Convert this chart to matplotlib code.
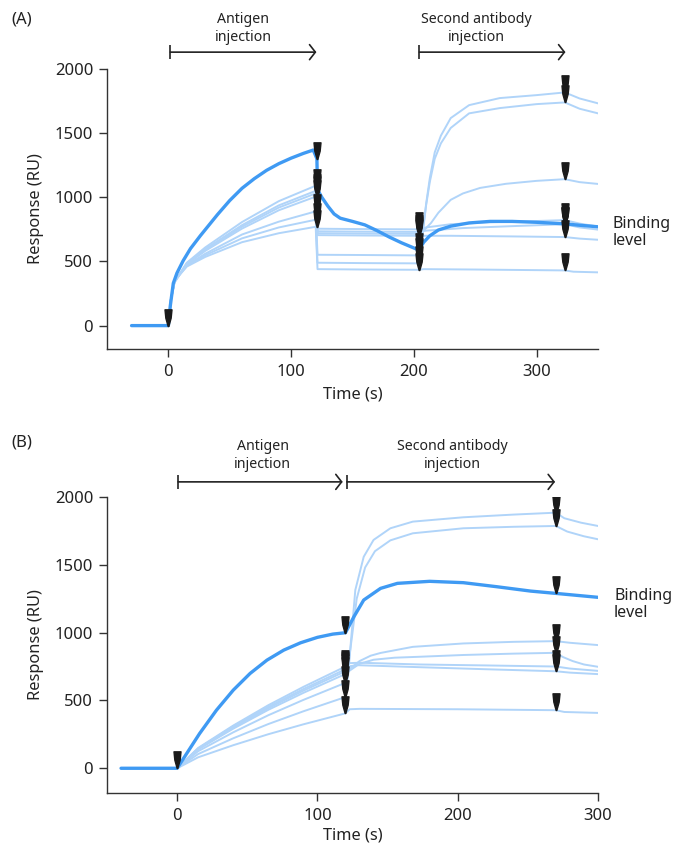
import matplotlib.pyplot as plt
from matplotlib.path import Path

plt.rcParams['font.family'] = ['Noto Sans', 'DejaVu Sans']

# ---- panel A data (time s, response RU) ----
a_thick_t = [-30, 0, 1.5, 4, 7, 12, 18, 26, 40, 50, 60, 70, 80, 90, 100, 110, 118,
             121, 121.5, 125, 130, 135, 140, 150, 160, 170, 180, 190, 200, 204,
             208, 213, 220, 230, 245, 262, 280, 300, 323, 335, 350]
a_thick_v = [0, 0, 150, 330, 410, 505, 600, 700, 865, 975, 1070, 1145, 1210, 1262, 1305, 1342, 1368,
             1300, 1060, 1000, 930, 870, 837, 812, 785, 740, 690, 645, 605, 588,
             650, 700, 745, 775, 800, 812, 812, 805, 793, 782, 770]

a_light_t = [
    [0, 2, 5, 8, 15, 30, 60, 90, 120, 121.5, 160, 204, 210, 230, 260, 300, 323, 335, 350],
    [0, 2, 5, 8, 15, 30, 60, 90, 120, 121.5, 160, 204, 210, 240, 280, 323, 335, 350],
    [0, 2, 5, 8, 15, 30, 60, 90, 120, 121.5, 160, 204, 208, 214, 220, 230, 240, 254, 275, 300, 323, 335, 350],
    [0, 2, 5, 8, 15, 30, 60, 90, 120, 121.5, 160, 204, 230, 280, 323, 335, 350],
    [0, 2, 5, 8, 15, 30, 60, 90, 120, 121.5, 160, 204, 207, 210, 213, 217, 222, 230, 245, 270, 300, 323, 335, 350],
    [0, 2, 5, 8, 15, 30, 60, 90, 120, 121.5, 160, 204, 207, 210, 213, 217, 222, 230, 245, 270, 300, 323, 335, 350],
    [0, 2, 5, 8, 15, 30, 60, 90, 120, 121.5, 160, 204, 208, 250, 323, 330, 350],
]
a_light_v = [
    [0, 200, 340, 383, 490, 609, 807, 970, 1090, 755, 752, 750, 765, 790, 805, 815, 822, 795, 772],
    [0, 200, 340, 383, 485, 596, 783, 937, 1050, 735, 732, 730, 740, 760, 775, 790, 765, 748],
    [0, 200, 340, 383, 482, 590, 771, 920, 1030, 720, 717, 715, 740, 800, 880, 980, 1030, 1073, 1105, 1128, 1141, 1118, 1104],
    [0, 200, 340, 383, 478, 582, 756, 899, 1005, 705, 702, 700, 700, 695, 690, 678, 669],
    [0, 200, 340, 383, 470, 560, 710, 810, 890, 552, 550, 547, 720, 940, 1120, 1300, 1420, 1540, 1654, 1695, 1726, 1739, 1690, 1654],
    [0, 200, 340, 383, 465, 548, 680, 765, 825, 490, 487, 485, 700, 950, 1150, 1350, 1480, 1617, 1718, 1773, 1796, 1817, 1770, 1732],
    [0, 200, 340, 383, 460, 535, 650, 720, 770, 440, 437, 435, 440, 437, 430, 420, 415],
]

# injection markers (arrow tips)
a_mark_t = [0, 121, 121, 121, 121, 121, 121, 121, 121,
            204, 204, 204, 204, 204, 204, 204, 204,
            323, 323, 323, 323, 323, 323, 323, 323]
a_mark_v = [0, 1300, 1090, 1050, 1030, 1005, 890, 825, 770,
            588, 750, 730, 715, 700, 547, 485, 435,
            793, 822, 790, 1141, 690, 1739, 1817, 430]

# ---- panel B data ----
b_thick_t = [-40, 0, 16, 28, 40, 52, 64, 76, 88, 100, 111, 120, 126, 133, 145, 157,
             180, 204, 228, 252, 270, 300]
b_thick_v = [0, 0, 256, 428, 576, 699, 797, 871, 925, 965, 989, 999, 1117, 1240, 1326, 1363,
             1378, 1368, 1338, 1306, 1289, 1260]

b_light_t = [
    [0, 15, 40, 65, 90, 120, 123, 130, 173, 220, 270, 280, 300],
    [0, 15, 40, 65, 90, 120, 123, 128, 173, 220, 270, 280, 300],
    [0, 15, 40, 65, 90, 120, 124, 130, 138, 145, 168, 204, 240, 270, 280, 300],
    [0, 15, 40, 65, 90, 120, 123, 130, 140, 155, 173, 204, 240, 270, 275, 282, 290, 300],
    [0, 15, 40, 65, 90, 120, 122, 125, 128, 134, 141, 152, 168, 204, 240, 270, 278, 290, 300],
    [0, 15, 40, 65, 90, 120, 122, 124, 127, 133, 140, 152, 168, 204, 240, 270, 276, 288, 300],
    [0, 15, 40, 65, 90, 120, 123, 130, 200, 270, 276, 300],
]
b_light_v = [
    [0, 150, 315, 465, 600, 750, 775, 778, 765, 758, 750, 735, 718],
    [0, 146, 307, 453, 584, 730, 752, 760, 745, 730, 715, 705, 694],
    [0, 143, 300, 443, 572, 715, 740, 790, 830, 850, 895, 920, 932, 937, 925, 908],
    [0, 139, 292, 431, 556, 695, 720, 770, 800, 815, 822, 835, 845, 851, 820, 790, 765, 748],
    [0, 126, 265, 391, 504, 630, 760, 1000, 1250, 1480, 1600, 1680, 1732, 1769, 1780, 1786, 1745, 1710, 1688],
    [0, 105, 221, 326, 420, 525, 700, 950, 1314, 1559, 1683, 1769, 1818, 1850, 1870, 1884, 1843, 1810, 1786],
    [0, 81, 170, 251, 324, 405, 435, 438, 435, 428, 415, 408],
]

b_mark_t = [0, 120, 120, 120, 120, 120, 120, 120, 120,
            270, 270, 270, 270, 270, 270, 270, 270]
b_mark_v = [0, 999, 750, 730, 715, 695, 630, 525, 405,
            1289, 750, 715, 937, 851, 1786, 1884, 428]

THICK = '#3f9af3'
LIGHT = '#b0d4f9'
INK = '#222222'

# narrow down-pointing arrow used for injection marks (tip at the data point)
arrow_verts = [(-0.21, 1), (0.21, 1), (0.16, 0.5), (0.02, 0), (-0.02, 0), (-0.16, 0.5), (-0.21, 1)]
arrow_codes = [Path.MOVETO] + [Path.LINETO] * 5 + [Path.CLOSEPOLY]
arrow_marker = Path(arrow_verts, arrow_codes)


def style_axes(ax, xlim, xticks):
    ax.set_xlim(*xlim)
    ax.set_ylim(-182, 2000)
    ax.set_xticks(xticks)
    ax.set_yticks([0, 500, 1000, 1500, 2000])
    for s in ['top', 'right']:
        ax.spines[s].set_visible(False)
    for s in ['left', 'bottom']:
        ax.spines[s].set_color('#333333')
        ax.spines[s].set_linewidth(1.0)
    ax.tick_params(direction='out', length=6, width=1.0, color='#333333',
                   labelsize=12, labelcolor='#222222', pad=4)
    ax.tick_params(axis='x', pad=5)
    ax.set_xlabel('Time (s)', fontsize=11.8, color='#222222')
    ax.set_ylabel('Response (RU)', fontsize=11.8, color='#222222')


def bracket(ax, x0, x1, y):
    ax.annotate('', xy=(x1, y), xytext=(x0, y), annotation_clip=False,
                arrowprops=dict(arrowstyle='->,head_length=0.35,head_width=0.45',
                                lw=1.2, color=INK, shrinkA=0, shrinkB=0, mutation_scale=12))
    ax.plot([x0], [y], marker='|', ms=10, mew=1.2, color=INK, clip_on=False)


fig = plt.figure(figsize=(6.86, 8.47), dpi=100)
ax_a = fig.add_axes([0.156, 0.588, 0.7157, 0.3306])
ax_b = fig.add_axes([0.156, 0.0638, 0.7157, 0.3495])

# panel A
for t, v in zip(a_light_t, a_light_v):
    ax_a.plot(t, v, color=LIGHT, lw=1.4, zorder=2)
ax_a.plot(a_thick_t, a_thick_v, color=THICK, lw=2.4, zorder=3, solid_capstyle='round')
ax_a.plot(a_mark_t, a_mark_v, ls='none', marker=arrow_marker, ms=24, color='#1a1a1a', zorder=4)
style_axes(ax_a, (-50, 350), [0, 100, 200, 300])
ax_a.xaxis.set_label_coords(0.5, -0.135)
ax_a.yaxis.set_label_coords(-0.129, 0.5)
bracket(ax_a, 1.6, 120.6, 2131)
bracket(ax_a, 204.5, 323.5, 2131)
ax_a.text(61, 2317, 'Antigen\ninjection', ha='center', va='center', fontsize=10.2,
          color=INK, clip_on=False, linespacing=1.25)
ax_a.text(251, 2317, 'Second antibody\ninjection', ha='center', va='center', fontsize=10.2,
          color=INK, clip_on=False, linespacing=1.25)
ax_a.text(362, 723, 'Binding\nlevel', ha='left', va='center', fontsize=11.5, color=INK,
          clip_on=False, linespacing=1.1)

# panel B
for t, v in zip(b_light_t, b_light_v):
    ax_b.plot(t, v, color=LIGHT, lw=1.4, zorder=2)
ax_b.plot(b_thick_t, b_thick_v, color=THICK, lw=2.4, zorder=3, solid_capstyle='round')
ax_b.plot(b_mark_t, b_mark_v, ls='none', marker=arrow_marker, ms=24, color='#1a1a1a', zorder=4)
style_axes(ax_b, (-50, 300), [0, 100, 200, 300])
ax_b.xaxis.set_label_coords(0.5, -0.117)
ax_b.yaxis.set_label_coords(-0.129, 0.5)
bracket(ax_b, 0.7, 118, 2111)
bracket(ax_b, 121, 269.4, 2111)
ax_b.text(61, 2303, 'Antigen\ninjection', ha='center', va='center', fontsize=10.2,
          color=INK, clip_on=False, linespacing=1.25)
ax_b.text(196, 2303, 'Second antibody\ninjection', ha='center', va='center', fontsize=10.2,
          color=INK, clip_on=False, linespacing=1.25)
ax_b.text(311.5, 1210, 'Binding\nlevel', ha='left', va='center', fontsize=11.5, color=INK,
          clip_on=False, linespacing=1.1)

fig.text(0.016, 1 - 19 / 847, '(A)', ha='left', va='center', fontsize=12, color=INK)
fig.text(0.016, 1 - 442 / 847, '(B)', ha='left', va='center', fontsize=12, color=INK)

fig.savefig('out.png', dpi=100)
